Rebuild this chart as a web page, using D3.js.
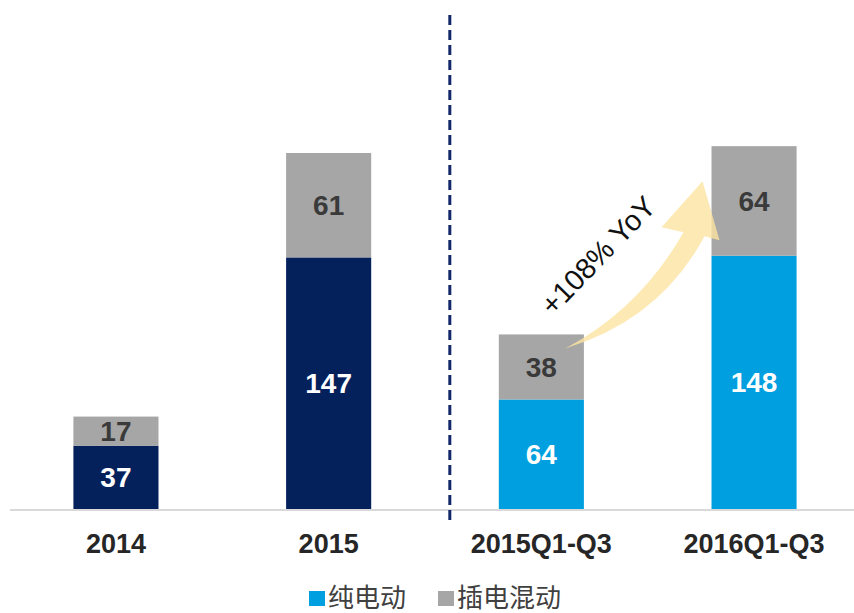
<!DOCTYPE html>
<html>
<head>
  <meta charset="utf-8">
  <script src="https://d3js.org/d3.v7.min.js"></script>
  <style type="text/css">
    body {
      margin: 0;
      background-color: #ffffff;
    }
    svg text {
      font-family: Arial, "Liberation Sans", sans-serif;
    }
  </style>
</head>
<body>
<div id="chart"></div>

<script>
  // data
  var categories = ["2014", "2015", "2015Q1-Q3", "2016Q1-Q3"];
  var pureEV = [37, 147, 64, 148];
  var plugIn = [17, 61, 38, 64];
  var periodType = ["year", "year", "ytd", "ytd"];
  var seriesNames = ["纯电动", "插电混动"];
  var growthLabel = "+108% YoY";

  var width = 854, height = 613;
  var svg = d3.select("#chart").append("svg").attr("width", width).attr("height", height);

  var x = d3.scaleBand().domain(categories).range([9.6, 860.4]).paddingInner(0.6).paddingOuter(0.3);
  var y = d3.scaleLinear().domain([0, 220]).range([509, 509 - 220 * 1.7115]);
  var evColor = d3.scaleOrdinal().domain(["year", "ytd"]).range(["#05215c", "#009fe0"]);
  var gray = "#a6a6a6";

  var rows = categories.map(function (c, i) {
    return {cat: c, ev: pureEV[i], phev: plugIn[i], type: periodType[i]};
  });

  // base line
  svg.append("line").attr("x1", 10).attr("x2", width).attr("y1", y(0) + 1).attr("y2", y(0) + 1)
    .attr("stroke", "#d9d9d9").attr("stroke-width", 2);

  // bottom segment (pure EV)
  svg.selectAll("rect.ev").data(rows).enter().append("rect").attr("class", "ev")
    .attr("x", function (d) { return x(d.cat); })
    .attr("y", function (d) { return y(d.ev); })
    .attr("width", x.bandwidth())
    .attr("height", function (d) { return y(0) - y(d.ev); })
    .attr("fill", function (d) { return evColor(d.type); });

  // top segment (plug-in hybrid)
  svg.selectAll("rect.phev").data(rows).enter().append("rect").attr("class", "phev")
    .attr("x", function (d) { return x(d.cat); })
    .attr("y", function (d) { return y(d.ev + d.phev); })
    .attr("width", x.bandwidth())
    .attr("height", function (d) { return y(d.ev) - y(d.ev + d.phev); })
    .attr("fill", gray);

  // value labels
  svg.selectAll("text.evlab").data(rows).enter().append("text").attr("class", "evlab")
    .attr("x", function (d) { return x(d.cat) + x.bandwidth() / 2; })
    .attr("y", function (d) { return (y(0) + y(d.ev)) / 2; })
    .attr("dy", "0.36em")
    .attr("text-anchor", "middle").attr("font-size", 28).attr("font-weight", "bold")
    .attr("fill", "#ffffff")
    .text(function (d) { return d.ev; });

  svg.selectAll("text.phevlab").data(rows).enter().append("text").attr("class", "phevlab")
    .attr("x", function (d) { return x(d.cat) + x.bandwidth() / 2; })
    .attr("y", function (d) { return (y(d.ev) + y(d.ev + d.phev)) / 2; })
    .attr("dy", "0.36em")
    .attr("text-anchor", "middle").attr("font-size", 28).attr("font-weight", "bold")
    .attr("fill", "#3a3a3a")
    .text(function (d) { return d.phev; });

  // category labels
  svg.selectAll("text.cat").data(categories).enter().append("text").attr("class", "cat")
    .attr("x", function (d) { return x(d) + x.bandwidth() / 2; })
    .attr("y", 553)
    .attr("text-anchor", "middle").attr("font-size", 27).attr("font-weight", "bold")
    .attr("fill", "#262626")
    .text(function (d) { return d; });

  // dashed divider between full years and Q1-Q3
  var divX = x(categories[2]) - 49;
  svg.append("line").attr("x1", divX).attr("x2", divX).attr("y1", 15).attr("y2", 522)
    .attr("stroke", "#13286a").attr("stroke-width", 3).attr("stroke-dasharray", "10,5");

  // growth arrow from 2015Q1-Q3 to 2016Q1-Q3
  var t = {x: x(categories[2]) + x.bandwidth() / 2 + 24, y: y(pureEV[2] + plugIn[2]) + 14};
  var h = {x: x(categories[3]) - 9, y: y(pureEV[3] + plugIn[3]) + 35};
  var arrow = d3.path();
  arrow.moveTo(t.x, t.y);
  arrow.quadraticCurveTo(t.x + 95, t.y - 29, h.x + 2, h.y + 55);
  arrow.lineTo(h.x + 17, h.y + 59);
  arrow.lineTo(h.x, h.y);
  arrow.lineTo(h.x - 41, h.y + 46);
  arrow.lineTo(h.x - 19, h.y + 51);
  arrow.quadraticCurveTo(t.x + 75, t.y - 40, t.x, t.y);
  arrow.closePath();
  svg.append("path").attr("d", arrow.toString())
    .attr("fill", "#fde4a0").attr("fill-opacity", 0.8);

  svg.append("text")
    .attr("transform", "translate(" + (t.x + 40) + "," + (t.y - 86) + ") rotate(-46)")
    .attr("text-anchor", "middle").attr("font-size", 29)
    .attr("fill", "#111111")
    .text(growthLabel);

  // legend
  var legendColors = [evColor("ytd"), gray];
  var legendX = [309, 438];
  var legend = svg.selectAll("g.legend").data(seriesNames).enter().append("g").attr("class", "legend")
    .attr("transform", function (d, i) { return "translate(" + legendX[i] + ",591)"; });
  legend.append("rect").attr("width", 16).attr("height", 15)
    .attr("fill", function (d, i) { return legendColors[i]; });
  legend.append("text").attr("x", 19).attr("y", 7).attr("dy", "0.36em")
    .attr("font-size", 26).attr("fill", "#404040")
    .style("font-family", "'Noto Sans CJK SC', sans-serif")
    .text(function (d) { return d; });
</script>

</body>
</html>
